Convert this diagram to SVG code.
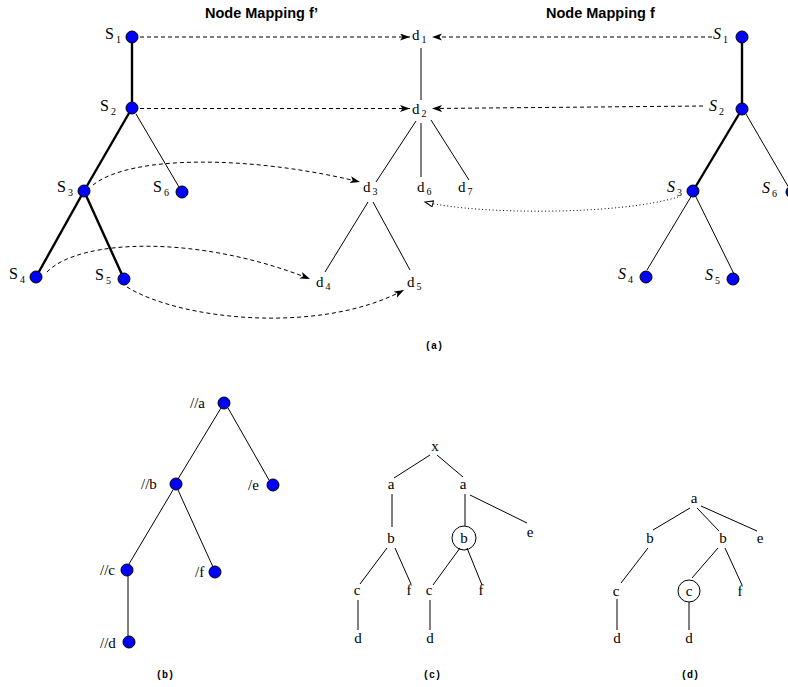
<svg xmlns="http://www.w3.org/2000/svg" width="788" height="687" viewBox="0 0 788 687">
<defs>
<style>
.t{font-family:"Liberation Serif",serif;font-size:16px;fill:#000}
.ti{font-family:"Liberation Serif",serif;font-size:16px;font-style:italic;fill:#000}
.l{font-family:"Liberation Serif",serif;font-size:15px;fill:#000}
.lm{font-family:"Liberation Serif",serif;font-size:15px;fill:#000;text-anchor:middle}
.s{font-size:10px;font-style:normal}
.h{font-family:"Liberation Sans",Arial,sans-serif;font-size:14.5px;font-weight:bold;fill:#000}
.cap{font-family:"Liberation Mono",monospace;font-size:10px;font-weight:bold;fill:#000;text-anchor:middle}
.n{fill:#0000ff;stroke:#000;stroke-width:1}
.e{stroke:#000;stroke-width:1;fill:none}
.k{stroke:#000;stroke-width:2.4;fill:none}
.da{stroke:#000;stroke-width:1;fill:none;stroke-dasharray:4,3;marker-end:url(#ah)}
.do{stroke:#000;stroke-width:1;fill:none;stroke-dasharray:1,2.5;marker-end:url(#oh)}
.ring{stroke:#000;stroke-width:1;fill:none}
</style>
<marker id="ah" markerUnits="userSpaceOnUse" markerWidth="12" markerHeight="8" refX="10" refY="3.5" orient="auto">
<path d="M0,0 L10,3.5 L0,7 L2.5,3.5 z" fill="#000"/>
</marker>
<marker id="oh" markerUnits="userSpaceOnUse" markerWidth="12" markerHeight="10" refX="9" refY="3.5" orient="auto">
<path d="M1,0.5 L9,3.5 L1,6.5 z" fill="#fff" stroke="#000" stroke-width="1"/>
</marker>
</defs>
<rect width="788" height="687" fill="#fff"/>

<text class="h" x="205" y="18">Node Mapping f’</text>
<text class="h" x="546" y="18">Node Mapping f</text>

<!-- tree edges -->
<g id="edges">
<line class="k" x1="132" y1="37" x2="132" y2="108"/>
<line class="k" x1="132" y1="108" x2="84" y2="191"/>
<line class="e" x1="136" y1="114" x2="179" y2="187"/>
<line class="k" x1="84" y1="191" x2="36" y2="277"/>
<line class="k" x1="84" y1="191" x2="124" y2="279"/>

<line class="e" x1="421" y1="48" x2="421" y2="100"/>
<line class="e" x1="416" y1="121" x2="376" y2="182"/>
<line class="e" x1="421" y1="123" x2="421" y2="177"/>
<line class="e" x1="431" y1="120" x2="469" y2="180"/>
<line class="e" x1="368" y1="202" x2="325" y2="272"/>
<line class="e" x1="373" y1="202" x2="410" y2="270"/>

<line class="k" x1="742" y1="37" x2="742" y2="109"/>
<line class="k" x1="742" y1="109" x2="693" y2="191"/>
<line class="e" x1="746" y1="114" x2="789" y2="188"/>
<line class="e" x1="692" y1="195" x2="647" y2="270"/>
<line class="e" x1="695" y1="195" x2="734" y2="274"/>

<line class="e" x1="221" y1="408" x2="178" y2="479"/>
<line class="e" x1="228" y1="408" x2="269" y2="480"/>
<line class="e" x1="173" y1="490" x2="129" y2="564"/>
<line class="e" x1="178" y1="490" x2="213" y2="567"/>
<line class="e" x1="128" y1="576" x2="128" y2="637"/>

<line class="e" x1="430" y1="455" x2="394" y2="478"/>
<line class="e" x1="437" y1="455" x2="463" y2="477"/>
<line class="e" x1="392" y1="494" x2="392" y2="527"/>
<line class="e" x1="465" y1="494" x2="465" y2="526"/>
<line class="e" x1="470" y1="495" x2="527" y2="523"/>
<line class="e" x1="387" y1="548" x2="360" y2="584"/>
<line class="e" x1="395" y1="548" x2="411" y2="584"/>
<line class="e" x1="460" y1="548" x2="433" y2="585"/>
<line class="e" x1="467" y1="548" x2="482" y2="585"/>
<line class="e" x1="358" y1="600" x2="358" y2="630"/>
<line class="e" x1="430" y1="600" x2="430" y2="630"/>

<line class="e" x1="690" y1="508" x2="653" y2="530"/>
<line class="e" x1="697" y1="508" x2="719" y2="531"/>
<line class="e" x1="701" y1="506" x2="757" y2="531"/>
<line class="e" x1="648" y1="548" x2="621" y2="583"/>
<line class="e" x1="718" y1="548" x2="692" y2="578"/>
<line class="e" x1="725" y1="548" x2="742" y2="585"/>
<line class="e" x1="617" y1="599" x2="617" y2="630"/>
<line class="e" x1="689" y1="602" x2="689" y2="630"/>
</g>

<!-- mapping connectors -->
<g id="connectors">
<line class="da" x1="140" y1="37" x2="410" y2="37"/>
<line class="da" x1="140" y1="108.5" x2="410" y2="108.5"/>
<line class="da" x1="712" y1="37" x2="432" y2="37"/>
<line class="da" x1="703" y1="106" x2="432" y2="108.5"/>
<path class="da" d="M93,185 C130,155 250,155 360,182"/>
<path class="da" d="M47,272 C80,238 200,235 310,279"/>
<path class="da" d="M127,287 C180,320 320,335 404,290"/>
<path class="do" d="M678,197 C620,215 480,215 425,202"/>
</g>

<!-- (a) left tree -->
<g id="L-S1"><circle class="n" cx="132" cy="37" r="6"/><text class="t" x="105" y="39">S<tspan class="s" dx="2" dy="4">1</tspan></text></g>
<g id="L-S2"><circle class="n" cx="132" cy="108" r="6"/><text class="t" x="100" y="111">S<tspan class="s" dx="2" dy="4">2</tspan></text></g>
<g id="L-S3"><circle class="n" cx="84" cy="191" r="6"/><text class="t" x="57" y="192">S<tspan class="s" dx="2" dy="4">3</tspan></text></g>
<g id="L-S6"><circle class="n" cx="182" cy="192" r="6"/><text class="t" x="153" y="192">S<tspan class="s" dx="2" dy="4">6</tspan></text></g>
<g id="L-S4"><circle class="n" cx="36" cy="277" r="6"/><text class="t" x="9" y="279">S<tspan class="s" dx="2" dy="4">4</tspan></text></g>
<g id="L-S5"><circle class="n" cx="124" cy="279" r="6"/><text class="t" x="95" y="280">S<tspan class="s" dx="2" dy="4">5</tspan></text></g>

<!-- (a) middle tree -->
<g id="d1"><text class="l" x="412" y="40">d<tspan class="s" dx="2" dy="3">1</tspan></text></g>
<g id="d2"><text class="l" x="412" y="114">d<tspan class="s" dx="2" dy="3">2</tspan></text></g>
<g id="d3"><text class="l" x="363" y="192">d<tspan class="s" dx="2" dy="3">3</tspan></text></g>
<g id="d6"><text class="l" x="417" y="192">d<tspan class="s" dx="2" dy="3">6</tspan></text></g>
<g id="d7"><text class="l" x="458" y="192">d<tspan class="s" dx="2" dy="3">7</tspan></text></g>
<g id="d4"><text class="l" x="316" y="287">d<tspan class="s" dx="2" dy="3">4</tspan></text></g>
<g id="d5"><text class="l" x="407" y="287">d<tspan class="s" dx="2" dy="3">5</tspan></text></g>

<!-- (a) right tree -->
<g id="R-S1"><circle class="n" cx="742" cy="37" r="6"/><text class="ti" x="713" y="39">S<tspan class="s" dx="2" dy="4">1</tspan></text></g>
<g id="R-S2"><circle class="n" cx="742" cy="109" r="6"/><text class="ti" x="709" y="111">S<tspan class="s" dx="2" dy="4">2</tspan></text></g>
<g id="R-S3"><circle class="n" cx="693" cy="191" r="6"/><text class="ti" x="667" y="192">S<tspan class="s" dx="2" dy="4">3</tspan></text></g>
<g id="R-S6"><circle class="n" cx="792" cy="192" r="6"/><text class="ti" x="762" y="193">S<tspan class="s" dx="2" dy="4">6</tspan></text></g>
<g id="R-S4"><circle class="n" cx="646" cy="277" r="6"/><text class="ti" x="618" y="279">S<tspan class="s" dx="2" dy="4">4</tspan></text></g>
<g id="R-S5"><circle class="n" cx="733" cy="279" r="6"/><text class="ti" x="705" y="280">S<tspan class="s" dx="2" dy="4">5</tspan></text></g>

<text class="cap" x="434" y="349">(a)</text>

<!-- (b) -->
<g id="b-a"><circle class="n" cx="224" cy="403" r="6"/><text class="l" x="190" y="408">//a</text></g>
<g id="b-b"><circle class="n" cx="176" cy="484" r="6"/><text class="l" x="141" y="489">//b</text></g>
<g id="b-e"><circle class="n" cx="273" cy="485" r="6"/><text class="l" x="248" y="490">/e</text></g>
<g id="b-c"><circle class="n" cx="127" cy="570" r="6"/><text class="l" x="100" y="575">//c</text></g>
<g id="b-f"><circle class="n" cx="215" cy="572" r="6"/><text class="l" x="195" y="577">/f</text></g>
<g id="b-d"><circle class="n" cx="129" cy="642" r="6"/><text class="l" x="100" y="648">//d</text></g>
<text class="cap" x="165" y="678">(b)</text>

<!-- (c) -->
<g id="c-x"><text class="lm" x="435" y="451">x</text></g>
<g id="c-a1"><text class="lm" x="391" y="489">a</text></g>
<g id="c-a2"><text class="lm" x="463" y="489">a</text></g>
<g id="c-b1"><text class="lm" x="391" y="543">b</text></g>
<g id="c-b2"><circle class="ring" cx="464" cy="538" r="12"/><text class="lm" x="464" y="543">b</text></g>
<g id="c-e"><text class="lm" x="530" y="537">e</text></g>
<g id="c-c1"><text class="lm" x="357" y="595">c</text></g>
<g id="c-f1"><text class="lm" x="409" y="595">f</text></g>
<g id="c-c2"><text class="lm" x="429" y="595">c</text></g>
<g id="c-f2"><text class="lm" x="481" y="595">f</text></g>
<g id="c-d1"><text class="lm" x="358" y="643">d</text></g>
<g id="c-d2"><text class="lm" x="430" y="643">d</text></g>
<text class="cap" x="432" y="678">(c)</text>

<!-- (d) -->
<g id="d-a"><text class="lm" x="694" y="503">a</text></g>
<g id="d-b1"><text class="lm" x="650" y="543">b</text></g>
<g id="d-b2"><text class="lm" x="723" y="543">b</text></g>
<g id="d-e"><text class="lm" x="760" y="543">e</text></g>
<g id="d-c1"><text class="lm" x="616" y="596">c</text></g>
<g id="d-c2"><circle class="ring" cx="689" cy="591" r="11"/><text class="lm" x="689" y="596">c</text></g>
<g id="d-f"><text class="lm" x="740" y="596">f</text></g>
<g id="d-d1"><text class="lm" x="617" y="643">d</text></g>
<g id="d-d2"><text class="lm" x="689" y="643">d</text></g>
<text class="cap" x="690" y="678">(d)</text>
</svg>
